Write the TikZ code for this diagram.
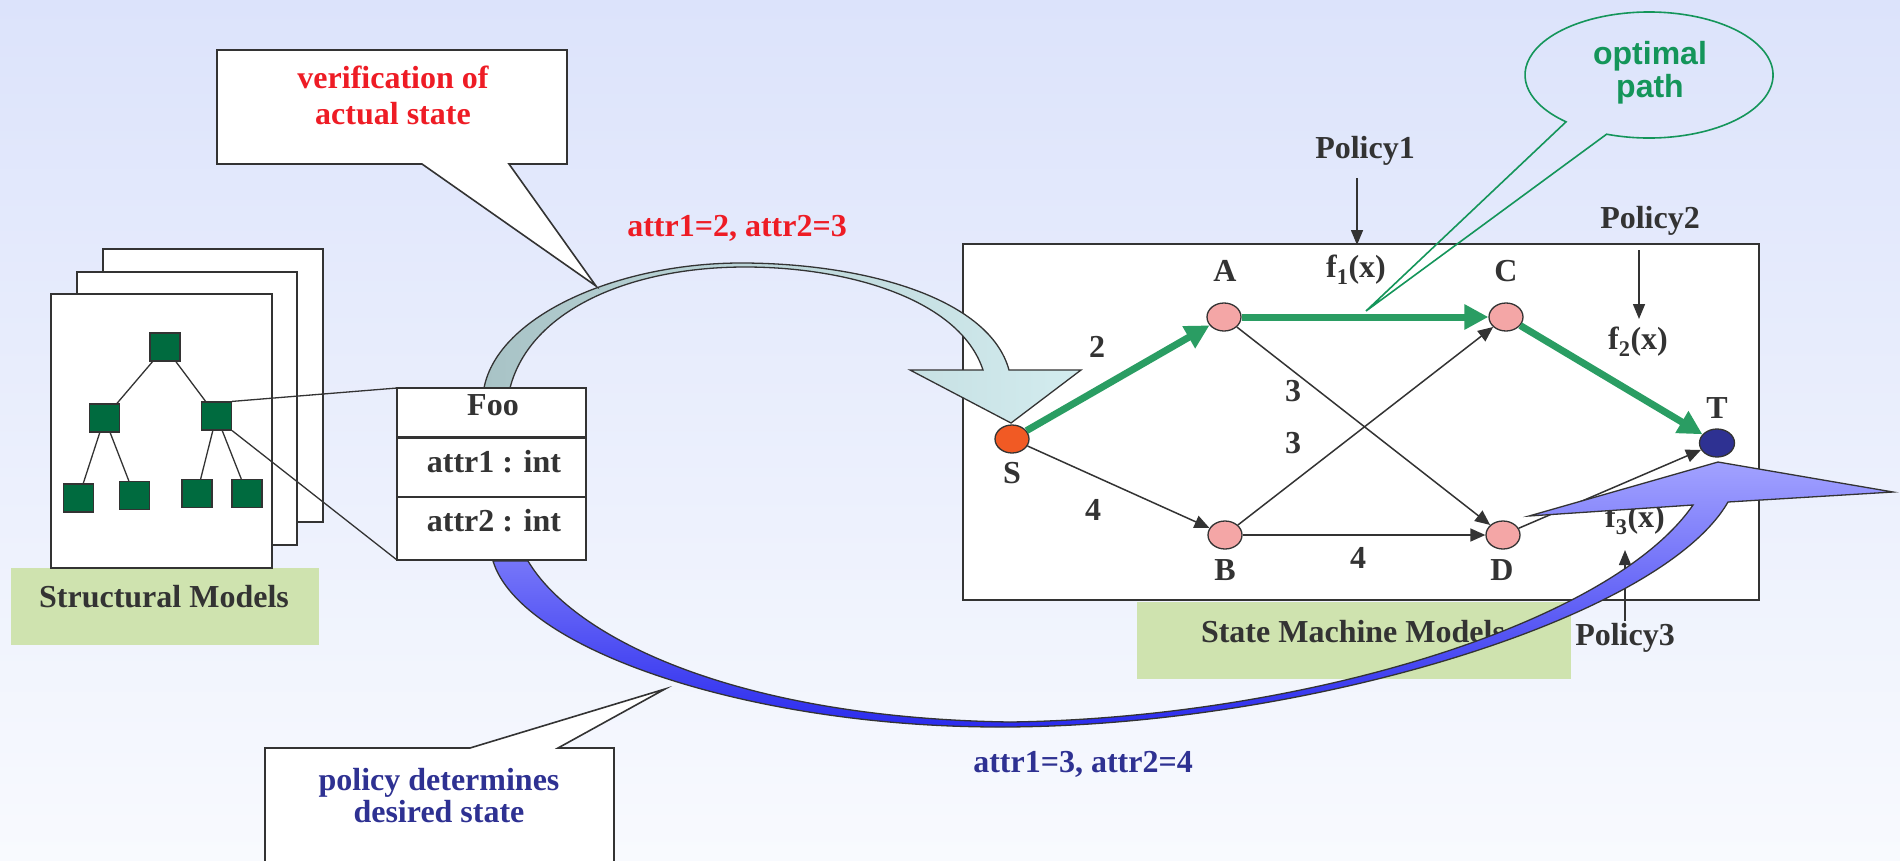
\documentclass[tikz,border=0pt]{standalone}
\usepackage{fontspec}
\setmainfont{Liberation Serif}
\newfontfamily\arialf{Liberation Sans}
\usetikzlibrary{shapes.geometric,arrows.meta}
\definecolor{bgtop}{HTML}{DCE3FB}
\definecolor{bgbot}{HTML}{F8FAFE}
\definecolor{ink}{HTML}{333333}
\definecolor{labelgreen}{HTML}{CFE3AF}
\definecolor{treegreen}{HTML}{006B3F}
\definecolor{pathgreen}{HTML}{2A9D63}
\definecolor{callgreen}{HTML}{14955A}
\definecolor{redtext}{HTML}{EE1C25}
\definecolor{navy}{HTML}{2E3192}
\definecolor{snode}{HTML}{F15A24}
\definecolor{pnode}{HTML}{F4A6A6}
\definecolor{tnode}{HTML}{2E3192}
\definecolor{arcL}{HTML}{A8C3C6}
\definecolor{arcR}{HTML}{D3ECEF}
\definecolor{blueL}{HTML}{A2A2FF}
\definecolor{blueD}{HTML}{2B2BEE}
\begin{document}
\begin{tikzpicture}[x=1pt,y=-1pt,
  font=\fontsize{32}{34}\selectfont\bfseries,
  txt/.style={inner sep=0pt, text=ink},
  page/.style={draw=ink, line width=1.5pt, fill=white},
  sq/.style={draw=ink, line width=1.2pt, fill=treegreen, minimum width=30pt, minimum height=28pt, inner sep=0pt},
  tline/.style={draw=ink, line width=1.3pt},
  boxline/.style={draw=ink, line width=1.6pt},
  st/.style={ellipse, draw=ink, line width=1.3pt, minimum width=34pt, minimum height=28pt, inner sep=0pt},
  tedge/.style={draw=ink, line width=1.5pt, -{Triangle[length=15pt,width=13pt]}},
  opt/.style={draw=pathgreen, line width=7pt, -{Triangle[length=24pt,width=24pt]}},
  parrow/.style={draw=ink, line width=1.5pt, -{Triangle[length=15pt,width=12pt]}},
  callout/.style={draw=ink, line width=1.6pt, fill=white},
  bigarrow/.style={draw=ink, line width=1.3pt}
]
\useasboundingbox (0,0) rectangle (1900,860);
\shade[top color=bgtop, bottom color=bgbot] (0,0) rectangle (1900,860);

% structural models
\fill[labelgreen] (11,568) rectangle (319,645);
\node[txt] (structlbl) at (164,597) {Structural Models};
\draw[page] (103,249) rectangle (323,522);
\draw[page] (77,272) rectangle (297,545);
\draw[page] (51,294) rectangle (272,568);

\node[sq] (root) at (165,347) {};
\node[sq] (lm) at (104.5,418) {};
\node[sq] (rm) at (216.5,416) {};
\node[sq] (l1) at (78.5,498) {};
\node[sq] (l2) at (134.5,495.5) {};
\node[sq] (l3) at (197,493.5) {};
\node[sq] (l4) at (247,493.5) {};
\draw[tline] (root) -- (lm);
\draw[tline] (root) -- (rm);
\draw[tline] (lm) -- (l1);
\draw[tline] (lm) -- (l2);
\draw[tline] (rm) -- (l3);
\draw[tline] (rm) -- (l4);

% state machine box and label
\fill[labelgreen] (1137,602) rectangle (1571,679);
\node[txt] (smlbl) at (1353,632) {State Machine Models};
\draw[boxline, fill=white] (963,244) rectangle (1759,600);

% upper arc arrow (verification)
\draw[bigarrow, left color=arcL, right color=arcR]
 (484,388) .. controls (498,315) and (620,262) .. (745,263)
 .. controls (870,264) and (990,300) .. (1009,370)
 -- (1081,370) -- (1011,423) -- (910,370) -- (983,370)
 .. controls (960,300) and (850,267) .. (745,267)
 .. controls (630,267) and (530,310) .. (510,388) -- cycle;

% graph
\node[st, fill=snode] (S) at (1012,439) {};
\node[st, fill=pnode] (A) at (1224,317) {};
\node[st, fill=pnode] (C) at (1506,317) {};
\node[st, fill=tnode, minimum width=35pt] (T) at (1717,443) {};
\node[st, fill=pnode] (B) at (1225,535) {};
\node[st, fill=pnode] (D) at (1503,535) {};
\draw[tedge] (S) -- (B);
\draw[tedge] (A) -- (D);
\draw[tedge] (B) -- (C);
\draw[tedge] (B) -- (D);
\draw[tedge] (D) -- (T);
\draw[opt] (S) -- (A);
\draw[opt] (A) -- (C);
\draw[opt] (C) -- (T);

\node[txt] (lS) at (1012,473) {S};
\node[txt] (lA) at (1225,271) {A};
\node[txt] (lC) at (1506,271) {C};
\node[txt] (lT) at (1717,408) {T};
\node[txt] (lB) at (1225,570) {B};
\node[txt] (lD) at (1502,570) {D};
\node[txt] (wSA) at (1097,347) {2};
\node[txt] (wAD) at (1293,391) {3};
\node[txt] (wBC) at (1293,443) {3};
\node[txt] (wSB) at (1093,510) {4};
\node[txt] (wBD) at (1358,558) {4};

\node[txt] (f1) at (1356,270) {f\textsubscript{1}(x)};
\node[txt] (f2) at (1638,342) {f\textsubscript{2}(x)};
\node[txt] (f3) at (1635,520) {f\textsubscript{3}(x)};

\node[txt] (pol1) at (1365,151) {Policy1};
\node[txt] (pol2) at (1650,221) {Policy2};
\node[txt] (pol3) at (1625,638) {Policy3};
\coordinate (p1s) at (1357,178); \coordinate (p1e) at (1357,245);
\coordinate (p2s) at (1639,250); \coordinate (p2e) at (1639,319);
\coordinate (p3s) at (1625,621); \coordinate (p3e) at (1625,550);
\draw[parrow] (p1s) -- (p1e);
\draw[parrow] (p2s) -- (p2e);
\draw[parrow] (p3s) -- (p3e);

% lower arc arrow (policy)
\draw[bigarrow, top color=blueL, bottom color=blueD]
 (493,561) .. controls (520,650) and (750,727) .. (1000,727)
 .. controls (1300,727) and (1660,620) .. (1728,502)
 -- (1893,492) -- (1718,462) -- (1529,516) -- (1693,505)
 .. controls (1610,625) and (1300,718) .. (1010,722)
 .. controls (740,718) and (575,640) .. (528,561) -- cycle;

% Foo class box
\draw[tline] (rm.north east) -- (397,388);
\draw[tline] (rm.south east) -- (397,560);
\node[draw=ink, line width=1.6pt, fill=white, minimum width=189pt, minimum height=172pt, inner sep=0pt] (foo) at (491.5,474) {};
\draw[draw=ink, line width=3pt] (397,437) -- (586,437);
\draw[draw=ink, line width=1.3pt] (397,497) -- (586,497);
\node[txt] (fooname) at (493,405) {Foo};
\node[txt] (attr1) at (494,462) {attr1 : int};
\node[txt] (attr2) at (494,521) {attr2 : int};

% callouts
\draw[callout] (217,50) -- (567,50) -- (567,164) -- (509,164) -- (596,286) -- (422,164) -- (217,164) -- cycle;
\node[txt, text=redtext, align=center, font=\fontsize{32}{36}\selectfont\bfseries] (verif) at (393,95) {verification of\\actual state};
\node[txt, text=redtext] (act) at (737,228) {attr1=2, attr2=3};

\draw[callout] (265,748) -- (470,748) -- (665,689) -- (558,748) -- (614,748) -- (614,866) -- (265,866) -- cycle;
\node[txt, text=navy, align=center, font=\fontsize{32}{32}\selectfont\bfseries] (desired) at (439,796) {policy determines\\desired state};
\node[txt, text=navy] (des) at (1083,764) {attr1=3, attr2=4};

\draw[draw=callgreen, line width=1.6pt] (1606.6,134.2) arc[start angle=110, end angle=-228, x radius=124, y radius=63] -- (1366,311) -- cycle;
\node[txt, text=callgreen, align=center, font=\fontsize{32}{33}\selectfont\bfseries\arialf] (optimal) at (1650,73) {optimal\\path};
\end{tikzpicture}
\end{document}
